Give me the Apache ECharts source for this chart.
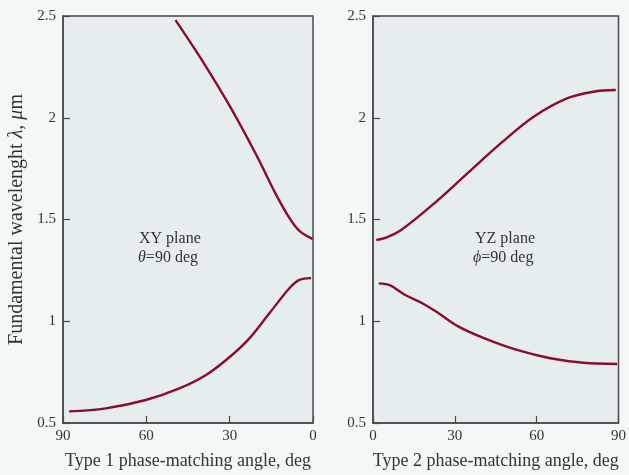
<!DOCTYPE html>
<html>
<head>
<meta charset="utf-8">
<script src="https://cdn.jsdelivr.net/npm/echarts@6/dist/echarts.min.js"></script>
<style>html,body{margin:0;padding:0;background:#f4f7f8;}#c{width:629px;height:475px;}</style>
</head>
<body>
<div id="c"></div>
<script>
// Left panel (XY plane, type 1) — angle in deg, wavelength in µm
const xyUpperAngle = [49.5, 39.6, 30.0, 20.4, 13.2, 8.4, 4.8, 0.2];
const xyUpperWl    = [2.480, 2.275, 2.058, 1.817, 1.620, 1.506, 1.443, 1.405];
const xyLowerAngle = [87.8, 74.6, 60.2, 48.1, 38.5, 30.1, 22.9, 15.7, 8.5, 4.9, 0.7];
const xyLowerWl    = [0.557, 0.572, 0.613, 0.670, 0.736, 0.823, 0.916, 1.039, 1.162, 1.203, 1.212];
// Right panel (YZ plane, type 2)
const yzUpperAngle = [1.2, 5, 10.3, 22.5, 34.6, 46.8, 58.9, 71.1, 80.8, 89.0];
const yzUpperWl    = [1.399, 1.412, 1.448, 1.580, 1.727, 1.874, 2.005, 2.095, 2.128, 2.136];
const yzLowerAngle = [2.1, 6.3, 11.8, 17.9, 23.9, 31.2, 40.9, 52.8, 65.0, 77.1, 89.5];
const yzLowerWl    = [1.186, 1.176, 1.129, 1.090, 1.041, 0.975, 0.916, 0.859, 0.818, 0.796, 0.790];

const pairs = (a, b) => a.map((v, i) => [v, b[i]]);
const FONT = '"Liberation Serif", "DejaVu Serif", serif';
const LINE = '#8b0c2e';
const AX = '#4a4a4a';
const TXT = '#333333';

function xAx(grid, inverse, name) {
  return {
    type: 'value', gridIndex: grid, min: 0, max: 90, interval: 30, inverse: inverse,
    name: name, nameLocation: 'middle', nameGap: 29,
    nameTextStyle: {fontFamily: FONT, fontSize: 18, color: TXT},
    axisLine: {show: true, onZero: false, lineStyle: {color: AX, width: 1.5}},
    axisTick: {show: true, inside: true, length: 7, lineStyle: {color: AX, width: 1.2}},
    axisLabel: {fontFamily: FONT, fontSize: 15, color: TXT, margin: 6, showMinLabel: true, showMaxLabel: true},
    splitLine: {show: false}
  };
}
function yAx(grid, name) {
  return {
    type: 'value', gridIndex: grid, min: 0.5, max: 2.5, interval: 0.5,
    name: name, nameLocation: 'middle', nameGap: 36,
    nameTextStyle: {fontFamily: FONT, fontSize: 20, color: TXT,
      rich: {i: {fontFamily: FONT, fontSize: 20, fontStyle: 'italic', color: TXT}}},
    axisLine: {show: true, onZero: false, lineStyle: {color: AX, width: 1.5}},
    axisTick: {show: true, inside: true, length: 7, lineStyle: {color: AX, width: 1.2}},
    axisLabel: {fontFamily: FONT, fontSize: 15, color: TXT, margin: 7},
    splitLine: {show: false}
  };
}
function ser(x, y, data) {
  return {type: 'line', xAxisIndex: x, yAxisIndex: y, data: data, smooth: 0.35,
    showSymbol: false, symbol: 'none', lineStyle: {color: LINE, width: 2.4}, silent: true};
}

const chart = echarts.init(document.getElementById('c'), null, {renderer: 'canvas'});
chart.setOption({
  backgroundColor: '#f4f7f8',
  animation: false,
  grid: [
    {left: 63, top: 16, width: 250, height: 407, show: true, backgroundColor: '#e6edee', borderColor: AX, borderWidth: 1.5},
    {left: 373, top: 16, width: 247, height: 408, show: true, backgroundColor: '#e6edee', borderColor: AX, borderWidth: 1.5}
  ],
  xAxis: [xAx(0, true, 'Type 1 phase-matching angle, deg'), xAx(1, false, 'Type 2 phase-matching angle, deg')],
  yAxis: [yAx(0, 'Fundamental wavelenght {i|λ}, {i|μ}m'), yAx(1, '')],
  series: [
    ser(0, 0, pairs(xyUpperAngle, xyUpperWl)),
    ser(0, 0, pairs(xyLowerAngle, xyLowerWl)),
    ser(1, 1, pairs(yzUpperAngle, yzUpperWl)),
    ser(1, 1, pairs(yzLowerAngle, yzLowerWl))
  ],
  graphic: [
    {type: 'text', left: 139, top: 231, style: {text: 'XY plane', font: '16px ' + FONT, fill: TXT}},
    {type: 'text', left: 138, top: 250, style: {text: '{i|θ}=90 deg', font: '16px ' + FONT, fill: TXT,
      rich: {i: {font: 'italic 16px ' + FONT, fill: TXT}}}},
    {type: 'text', left: 475, top: 231, style: {text: 'YZ plane', font: '16px ' + FONT, fill: TXT}},
    {type: 'text', left: 473, top: 250, style: {text: '{i|ϕ}=90 deg', font: '16px ' + FONT, fill: TXT,
      rich: {i: {font: 'italic 16px ' + FONT, fill: TXT}}}}
  ]
});
</script>
</body>
</html>
